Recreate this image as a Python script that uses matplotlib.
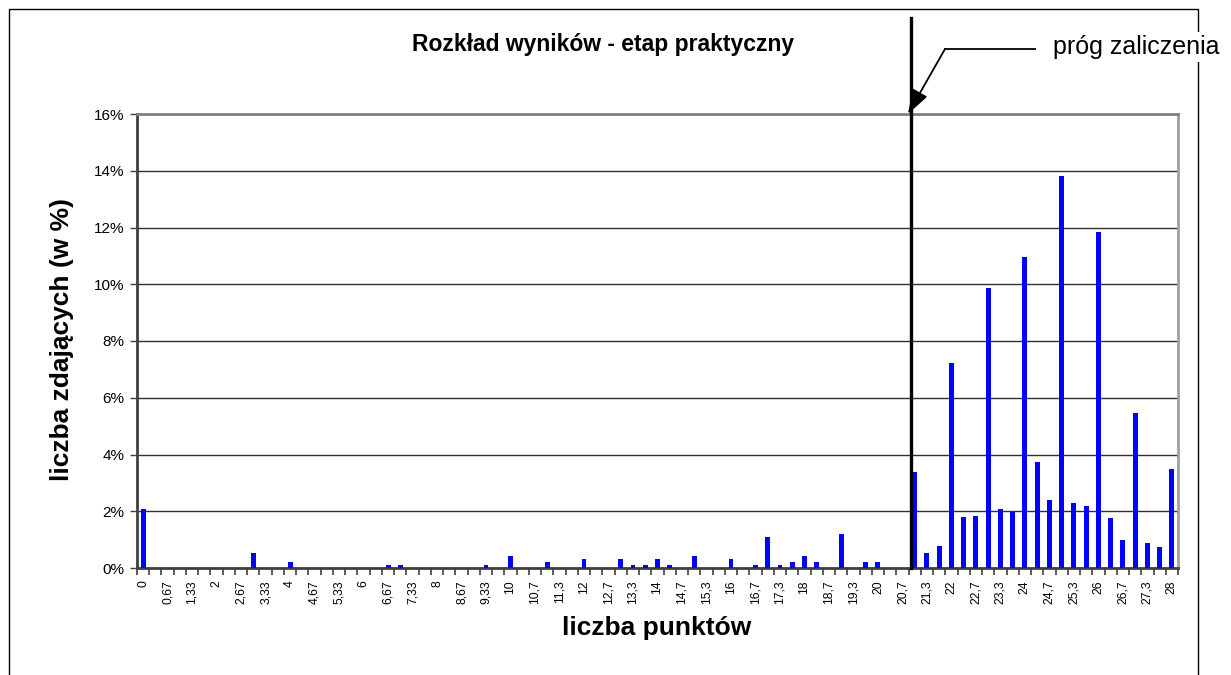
import numpy as np
import matplotlib
matplotlib.use('Agg')
import matplotlib.pyplot as plt
from matplotlib.patches import Rectangle
from matplotlib.lines import Line2D

plt.rcParams['font.family'] = ['Liberation Sans', 'DejaVu Sans']

# odsetek zdajacych (w %) dla kolejnych wynikow 0, 1/3, 2/3, ... 28
wynik = [2.07, 0, 0, 0, 0, 0, 0, 0, 0, 0.54,
         0, 0, 0.22, 0, 0, 0, 0, 0, 0, 0,
         0.11, 0.11, 0, 0, 0, 0, 0, 0, 0.11, 0,
         0.43, 0, 0, 0.22, 0, 0, 0.32, 0, 0, 0.32,
         0.11, 0.11, 0.32, 0.11, 0, 0.43, 0, 0, 0.32, 0,
         0.11, 1.08, 0.11, 0.22, 0.43, 0.22, 0, 1.19, 0, 0.22,
         0.22, 0, 0, 3.40, 0.54, 0.76, 7.24, 1.79, 1.84, 9.87,
         2.08, 1.98, 10.96, 3.74, 2.40, 13.82, 2.30, 2.19, 11.83, 1.77,
         0.99, 5.46, 0.89, 0.75, 3.48]

# etykiety co druga kategoria
etykiety = ['0', '0,67', '1,33', '2', '2,67', '3,33', '4', '4,67', '5,33', '6',
            '6,67', '7,33', '8', '8,67', '9,33', '10', '10,7', '11,3', '12', '12,7',
            '13,3', '14', '14,7', '15,3', '16', '16,7', '17,3', '18', '18,7', '19,3',
            '20', '20,7', '21,3', '22', '22,7', '23,3', '24', '24,7', '25,3', '26',
            '26,7', '27,3', '28']

prog = 62.7  # polozenie linii progu (w jednostkach kategorii)

W, H = 1231, 675
fig = plt.figure(figsize=(W / 100, H / 100), dpi=100)

# ramka wykresu
fig.patches.append(Rectangle((9 / W, -0.1), 1189 / W, 1.1 - 9 / H, transform=fig.transFigure,
                             fill=False, edgecolor='black', linewidth=1.0, zorder=0))

ax = fig.add_axes([137 / W, 1 - 568 / H, 1041 / W, 454 / H])
x = np.arange(len(wynik))
ax.bar(x, wynik, width=0.4, color='#0000ff', zorder=3)

ax.set_xlim(-0.5, len(wynik) - 0.5)
ax.set_ylim(0, 16)
ax.set_yticks(np.arange(0, 17, 2))
ax.set_yticklabels(['%d%%' % v for v in range(0, 17, 2)], fontsize=11)
ax.yaxis.grid(True, color='#303030', linewidth=1.0, zorder=1)

ax.set_xticks(np.arange(0, len(wynik), 2))
ax.set_xticklabels(etykiety, rotation=90, fontsize=8.8)
ax.set_xticks(np.arange(-0.5, len(wynik), 1), minor=True)
ax.tick_params(axis='x', which='major', length=0, pad=9)
ax.tick_params(axis='x', which='minor', length=5, width=1.2, color='#404040')
ax.tick_params(axis='y', length=5, width=1.0, color='#404040', pad=4)

ax.spines['left'].set_color('#404040')
ax.spines['left'].set_linewidth(2.0)
ax.spines['bottom'].set_color('#404040')
ax.spines['bottom'].set_linewidth(2.0)
ax.spines['top'].set_color('#808080')
ax.spines['top'].set_linewidth(2.0)
ax.spines['right'].set_color('#a0a0a0')
ax.spines['right'].set_linewidth(2.0)

# linia progu zaliczenia
ax.plot([prog, prog], [0, (568 - 18) / 454 * 16], color='black', linewidth=2.4,
        clip_on=False, zorder=5)

# strzalka z opisem
fig.lines.append(Line2D([945 / W, 1035 / W], [1 - 49 / H, 1 - 49 / H],
                        transform=fig.transFigure, color='black', linewidth=1.3))
ax.annotate('', xy=(prog - 0.25, 16), xycoords='data',
            xytext=(945, H - 49), textcoords='figure pixels',
            arrowprops=dict(arrowstyle='-|>,head_length=1.5,head_width=0.5',
                            color='black', linewidth=1.3, shrinkA=0, shrinkB=0))
fig.text(1053 / W, 1 - 47 / H, 'próg zaliczenia', fontsize=18, ha='left', va='center',
         bbox=dict(facecolor='white', edgecolor='none', pad=2))

fig.text(603 / W, 1 - 44 / H, 'Rozkład wyników - etap praktyczny', fontsize=16.5,
         fontweight='bold', ha='center', va='center')
fig.text(657 / W, 1 - 628 / H, 'liczba punktów', fontsize=19, fontweight='bold',
         ha='center', va='center')
fig.text(62 / W, 1 - 340 / H, 'liczba zdających (w %)', fontsize=19, fontweight='bold',
         ha='center', va='center', rotation=90)

fig.savefig('out.png', dpi=100)
